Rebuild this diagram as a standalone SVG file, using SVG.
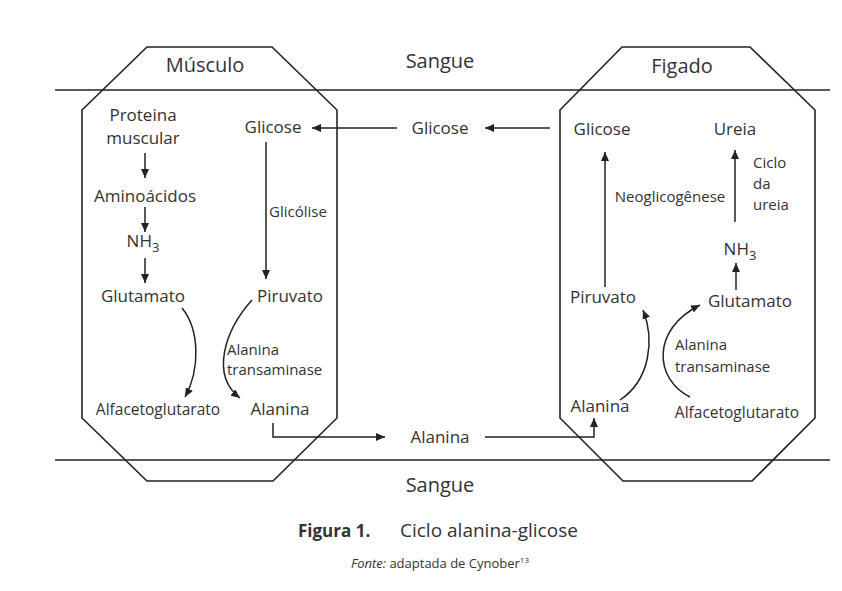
<svg xmlns="http://www.w3.org/2000/svg" width="842" height="591" viewBox="0 0 842 591">
<defs>
<marker id="ah" markerWidth="10" markerHeight="9" refX="9" refY="4" orient="auto" markerUnits="userSpaceOnUse">
<path d="M0,0 L9,4 L0,8 z" fill="#222"/>
</marker>
<style>
text{font-family:"Open Sans","Liberation Sans",sans-serif;fill:#333;}
.t{font-size:20px;text-anchor:middle;}
.m{font-size:17px;text-anchor:middle;}
.s{font-size:15px;}
.a{font-size:15.5px;text-anchor:middle;}
.box{fill:none;stroke:#222;stroke-width:1.6;}
.ln{fill:none;stroke:#222;stroke-width:1.6;}
.c line,.c path{fill:none;stroke:#222;stroke-width:1.5;marker-end:url(#ah);}
</style>
</defs>
<rect width="842" height="591" fill="#fff"/>
<line class="ln" x1="55" y1="90" x2="830" y2="90"/>
<line class="ln" x1="55" y1="460" x2="830" y2="460"/>
<g id="musculo">
<polygon class="box" points="147,47 272,47 337,110 337,418 273,481 147,481 82,418 82,110"/>
<text class="t" x="205" y="72">Músculo</text>
</g>
<g id="figado">
<polygon class="box" points="622,47 750,47 815,110 815,418 752,481 623,481 560,418 560,110"/>
<text class="t" x="682" y="73">Figado</text>
</g>
<g id="sangue-top"><text class="t" x="440" y="68">Sangue</text></g>
<g id="sangue-bottom"><text class="t" x="440" y="492">Sangue</text></g>
<g id="m-proteina"><text class="m" x="143" y="121">Proteina</text><text class="m" x="143" y="144">muscular</text></g>
<g id="m-aminoacidos"><text class="m" x="145" y="202">Aminoácidos</text></g>
<g id="m-nh3"><text class="m" x="143" y="247">NH<tspan font-size="13" dy="5">3</tspan></text></g>
<g id="m-glutamato"><text class="m" x="143" y="302">Glutamato</text></g>
<g id="m-alfaceto"><text class="a" x="158" y="415">Alfacetoglutarato</text></g>
<g id="m-glicose"><text class="m" x="273" y="133">Glicose</text></g>
<g id="m-glicolise"><text class="s" x="298" y="217" text-anchor="middle">Glicólise</text></g>
<g id="m-piruvato"><text class="m" x="290" y="302">Piruvato</text></g>
<g id="m-transaminase"><text class="s" x="227" y="355">Alanina</text><text class="s" x="227" y="375">transaminase</text></g>
<g id="m-alanina"><text class="m" x="280" y="415">Alanina</text></g>
<g id="s-glicose"><text class="m" x="440" y="134">Glicose</text></g>
<g id="s-alanina"><text class="m" x="440" y="443">Alanina</text></g>
<g id="f-glicose"><text class="m" x="602" y="135">Glicose</text></g>
<g id="f-ureia"><text class="m" x="735" y="135">Ureia</text></g>
<g id="f-neo"><text class="s" x="670" y="202" text-anchor="middle">Neoglicogênese</text></g>
<g id="f-ciclo"><text class="s" x="753" y="168">Ciclo</text><text class="s" x="753" y="189">da</text><text class="s" x="753" y="210">ureia</text></g>
<g id="f-nh3"><text class="m" x="740" y="255">NH<tspan font-size="13" dy="5">3</tspan></text></g>
<g id="f-piruvato"><text class="m" x="603" y="303">Piruvato</text></g>
<g id="f-glutamato"><text class="m" x="750" y="307">Glutamato</text></g>
<g id="f-transaminase"><text class="s" x="675" y="350">Alanina</text><text class="s" x="675" y="372">transaminase</text></g>
<g id="f-alanina"><text class="m" x="600" y="412">Alanina</text></g>
<g id="f-alfaceto"><text class="a" x="737" y="418">Alfacetoglutarato</text></g>
<g id="connectors" class="c">
<line x1="145" y1="153" x2="145" y2="178"/>
<line x1="145" y1="207" x2="145" y2="232"/>
<line x1="145" y1="258" x2="145" y2="283"/>
<line x1="397" y1="128" x2="312" y2="128"/>
<line x1="550" y1="128" x2="485" y2="128"/>
<line x1="266" y1="142" x2="266" y2="279"/>
<path d="M182,308 C200,330 200,370 185,397"/>
<path d="M252,300 C225,330 210,375 240,398"/>
<path d="M273,423 V437 H385"/>
<path d="M485,437 H594 V418"/>
<line x1="605" y1="287" x2="605" y2="152"/>
<line x1="736" y1="290" x2="736" y2="263"/>
<line x1="735" y1="222" x2="735" y2="150"/>
<path d="M620,400 C650,380 655,340 643,310"/>
<path d="M690,397 C655,380 650,330 700,305"/>
</g>
<g id="caption">
<text x="298" y="537" font-size="17" font-weight="bold" fill="#222">Figura 1.</text>
<text x="400" y="537" font-size="19" fill="#555">Ciclo alanina-glicose</text>
<text x="440" y="568" font-size="13" fill="#888" text-anchor="middle"><tspan font-style="italic">Fonte:</tspan> adaptada de Cynober<tspan font-size="8" dy="-5">13</tspan></text>
</g>
</svg>
